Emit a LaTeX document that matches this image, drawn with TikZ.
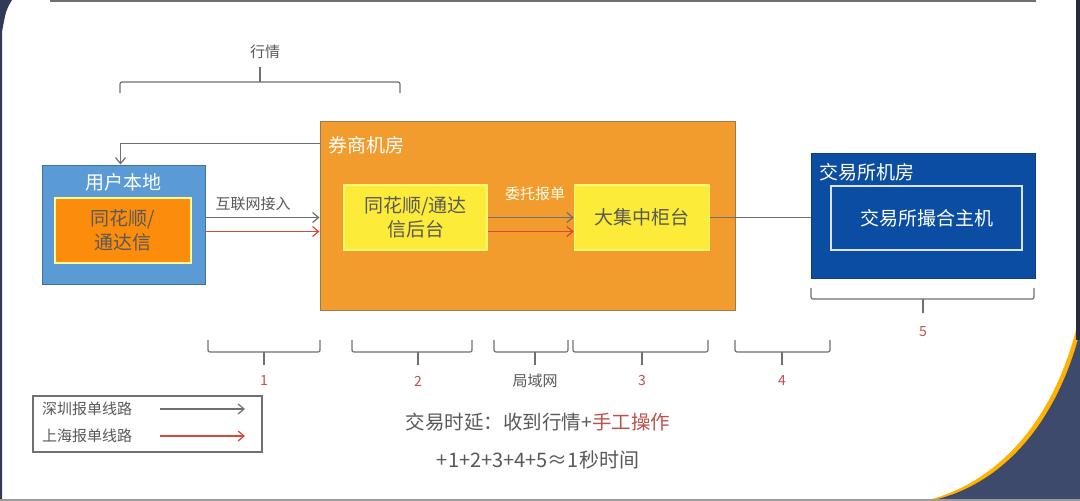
\documentclass[tikz,border=0pt]{standalone}
\usepackage{fontspec}
\setmainfont{Noto Sans CJK SC}
\usepackage{tikz}
\usetikzlibrary{arrows,arrows.meta,positioning}

\definecolor{userblue}{HTML}{5B9BD5}
\definecolor{useredge}{HTML}{41719C}
\definecolor{appfill}{HTML}{FB8C0C}
\definecolor{brokerfill}{HTML}{F19C2C}
\definecolor{brokeredge}{HTML}{9A7A50}
\definecolor{yellowbox}{HTML}{FDEB3A}
\definecolor{exchblue}{HTML}{0B4DA2}
\definecolor{navy}{HTML}{3E4A6B}
\definecolor{textgray}{HTML}{595959}
\definecolor{linegray}{HTML}{707070}
\definecolor{linered}{HTML}{D8483B}
\definecolor{numred}{HTML}{C0504D}

\begin{document}
\begin{tikzpicture}[x=1pt,y=-1pt,node distance=86pt,
  >={Straight Barb[length=6pt,width=10pt]},
  box/.style={draw=yellow!55!white, line width=1.5pt, fill=yellowbox, minimum height=65pt, align=center, text=textgray, inner sep=0pt, font=\fontsize{19pt}{24pt}\selectfont},
  title/.style={text=white, inner sep=0pt, font=\fontsize{19pt}{23pt}\selectfont},
  lbl/.style={text=textgray, inner sep=0pt, font=\fontsize{15pt}{18pt}\selectfont},
  num/.style={text=numred, inner sep=0pt, font=\fontsize{14pt}{16pt}\selectfont},
  link/.style={draw=linegray, line width=1.2pt},
  redlink/.style={draw=linered, line width=1.2pt},
  brace/.style={draw=linegray, line width=1.2pt, rounded corners=2pt}]

% frame of the slide
\useasboundingbox (0,0) rectangle (1080,501);
\fill[white] (0,0) rectangle (1080,501);
\fill[navy!80!black] (0,0) -- (12,0) .. controls (6,10) .. (2,32) -- (2,501) -- (0,501) -- cycle;
\fill[orange!60!yellow] (1080,300) -- (1076,330) .. controls (1050,430) and (990,486) .. (924,501) -- (1080,501) -- cycle;
\fill[navy] (1080,300) -- (1080,332) .. controls (1054,432) and (995,488) .. (929,501) -- (1080,501) -- cycle;
\fill[navy!60!black] (1076,0) rectangle (1080,340);
\draw[linegray, line width=1.5pt] (50,1) -- (1036,1);
\draw[linegray!70, line width=1.5pt] (0,500) -- (1080,500);

\node(user)[draw=useredge, line width=1pt, fill=userblue, minimum width=163pt, minimum height=119pt] at (123.5,224.5) {};
\node(usertitle)[title] at (123,182) {用户本地};
\node(app)[box, draw=yellow!40!white, fill=appfill, minimum width=136pt] at (123,230.5) {同花顺/\\通达信};

\node(broker)[draw=brokeredge, line width=1pt, fill=brokerfill, minimum width=415pt, minimum height=189pt] at (527.5,215.5) {};
\node(brokertitle)[title, anchor=west] at (328,145) {券商机房};
\node(back)[box, minimum width=143pt] at (415.5,217.5) {同花顺/通达\\信后台};
\node(counter)[box, minimum width=135pt, right=of back] {大集中柜台};

\node(exch)[draw=exchblue!80!black, line width=1pt, fill=exchblue, minimum width=224pt, minimum height=125pt] at (923,215.5) {};
\node(exchtitle)[title, anchor=west] at (819,172) {交易所机房};
\node(host)[draw=white!85!exchblue, line width=1.2pt, minimum width=191pt, minimum height=64pt, title] at (926.5,218) {交易所撮合主机};

\node(net)[lbl] at (253,204) {互联网接入};
\node(order)[lbl, text=white!92!yellow] at (535,194) {委托报单};

\draw [link, ->] ([yshift=7pt]user.east) -- ([yshift=7pt]user.east -| broker.west);
\draw [redlink, ->] ([yshift=-7pt]user.east) -- ([yshift=-7pt]user.east -| broker.west);
\draw [link, ->] (back.east) -- (counter.west);
\draw [redlink, ->] ([yshift=-14pt]back.east) -- ([yshift=-14pt]counter.west);
\draw [link] (counter.east) -- (counter.east -| exch.west);
\draw [link, ->] ([yshift=-23pt]broker.north west) -| ([xshift=-3pt]user.north);

% market data bracket
\draw [brace] (120,93) -- (120,82) -- (400,82) -- (400,93);
\draw [link] (260,82) -- (260,67);
\node(quote)[lbl] at (265,52) {行情};

% latency brackets
\draw [brace] (208,340) -- (208,352) -- (320,352) -- (320,340);
\draw [link] (264,352) -- (264,365);
\node(n1)[num] at (264,381) {1};
\draw [brace] (352,340) -- (352,352) -- (472,352) -- (472,340);
\draw [link] (418,352) -- (418,365);
\node(n2)[num] at (418,381) {2};
\draw [brace] (494,340) -- (494,352) -- (568,352) -- (568,340);
\draw [link] (535,352) -- (535,365);
\node(lan)[lbl] at (535,381) {局域网};
\draw [brace] (573,340) -- (573,352) -- (708,352) -- (708,340);
\draw [link] (642,352) -- (642,365);
\node(n3)[num] at (642,381) {3};
\draw [brace] (735,340) -- (735,352) -- (830,352) -- (830,340);
\draw [link] (782,352) -- (782,365);
\node(n4)[num] at (782,381) {4};
\draw [brace] (811,288) -- (811,299) -- (1034,299) -- (1034,288);
\draw [link] (923,299) -- (923,313);
\node(n5)[num] at (923,332) {5};

% legend
\node(legend)[draw=linegray, line width=1.2pt, minimum width=229pt, minimum height=56pt] at (147.5,424) {};
\node(sz)[lbl, anchor=west] at (42,409) {深圳报单线路};
\node(sh)[lbl, anchor=west] at (42,436) {上海报单线路};
\coordinate(sza) at (160,409);
\coordinate(szb) at (245,409);
\coordinate(sha) at (160,436);
\coordinate(shb) at (245,436);
\draw [link, ->] (sza) -- (szb);
\draw [redlink, ->] (sha) -- (shb);

\node(delay)[lbl, font=\fontsize{19.5pt}{23pt}\selectfont] at (538,422) {交易时延：收到行情+{\color{numred}手工操作}};
\node(sum)[lbl, font=\fontsize{20pt}{24pt}\selectfont] at (538,460) {+1+2+3+4+5≈1秒时间};

\end{tikzpicture}
\end{document}
